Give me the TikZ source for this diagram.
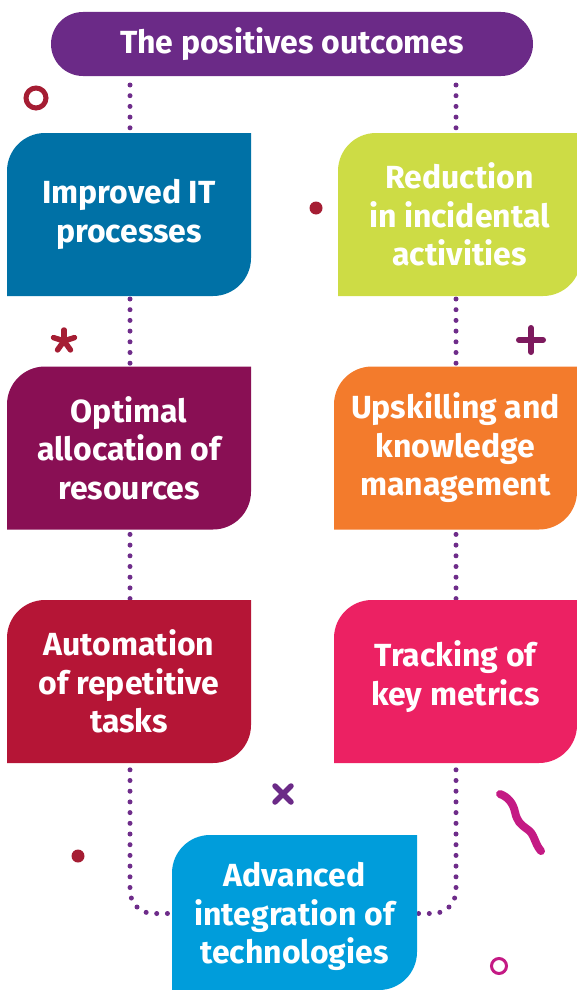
\documentclass[tikz,border=0pt]{standalone}
\usepackage{fontspec}
\setmainfont{Fira Sans}
\usetikzlibrary{calc,shapes.misc}
\definecolor{cTitle}{HTML}{6B2A87}
\definecolor{cBlue}{HTML}{0071A6}
\definecolor{cLime}{HTML}{CDDC45}
\definecolor{cMaroon}{HTML}{890F54}
\definecolor{cOrange}{HTML}{F37B2C}
\definecolor{cCrimson}{HTML}{B51536}
\definecolor{cPink}{HTML}{EC2163}
\definecolor{cCyan}{HTML}{009DDB}
\definecolor{cDots}{HTML}{6E2C8A}
\definecolor{cRed}{HTML}{A51D33}
\definecolor{cPlum}{HTML}{7D1A5E}
\definecolor{cMagenta}{HTML}{C41A84}
\pgfdeclarelayer{bg}
\pgfdeclarelayer{shapes}
\pgfsetlayers{bg,shapes,main}
\newcommand\cornerbox[3][0]{%
  \fill[#3] ($(#2.south west)+(0,#1)$) -- ($(#2.north west)+(0,-38)$)
    arc[start angle=180,end angle=90,radius=38pt] -- (#2.north east)
    -- ($(#2.south east)+(0,38+#1)$)
    arc[start angle=0,end angle=-90,radius=38pt] -- cycle;}
\tikzset{
  boxtext/.style={inner sep=0pt, outer sep=0pt, align=center, text=white,
    font=\bfseries\fontsize{32}{38.5}\selectfont},
  lbox/.style={boxtext, minimum width=244pt, minimum height=163pt},
  rbox/.style={boxtext, minimum width=243pt, minimum height=163pt},
  titlebox/.style={rounded rectangle, fill=cTitle, inner sep=0pt, outer sep=0pt,
    minimum width=482pt, minimum height=64pt, text=white,
    font=\bfseries\fontsize{32}{36}\selectfont},
  dotline/.style={draw=cDots, line width=5pt, line cap=round,
    dash pattern=on 0pt off 10.7pt, rounded corners=23pt},
  deco/.style={line width=5.5pt, line cap=round}
}
\begin{document}
\begin{tikzpicture}[x=1pt,y=1pt]
\useasboundingbox (0,0) rectangle (577,-990);
\node[titlebox] (title) at (292,-44) {The positives outcomes};
\node[lbox] (b1) at (129,-214.5) {Improved IT\\processes};
\node[rbox] (b2) at (459.5,-214.5) {Reduction\\in incidental\\activities};
\node[lbox] (b3) at (129,-448) {Optimal\\allocation of\\resources};
\node[rbox] (b4) at (455.5,-448) {Upskilling and\\knowledge\\management};
\node[lbox] (b5) at (129,-681.5) {Automation\\of repetitive\\tasks};
\node[rbox, minimum height=153pt] (b6) at (455.5,-676.5) {Tracking of\\key metrics};
\node[boxtext, minimum width=245pt, minimum height=163pt] (b7) at (294.5,-916.5)
  {Advanced\\integration of\\technologies};
\coordinate (lx) at (130,0);
\coordinate (rx) at (456,0);
\begin{pgfonlayer}{shapes}
\cornerbox{b1}{cBlue}
\cornerbox{b2}{cLime}
\cornerbox{b3}{cMaroon}
\cornerbox{b4}{cOrange}
\cornerbox{b5}{cCrimson}
\cornerbox[-10]{b6}{cPink}
\cornerbox[8]{b7}{cCyan}
\end{pgfonlayer}
\begin{pgfonlayer}{bg}
\draw[dotline] ($(title.south -| lx)+(0,-9)$) |- ($(b7.west)+(0,3)$);
\draw[dotline] ($(title.south -| rx)+(0,-9)$) |- ($(b7.east)+(0,3)$);
\end{pgfonlayer}
% decorations
\draw[cRed, line width=5pt] (36,-98) circle[radius=10pt];
\fill[cRed] (316,-208) circle[radius=6.5pt];
\foreach \a in {90,18,162,234,306}
  \draw[cRed, deco] (64,-341) -- ++(\a:11);
\draw[cPlum, line width=6pt, line cap=round] (519,-340) -- (543,-340) (531,-328) -- (531,-352);
\draw[cTitle, deco] (275,-786) -- (291,-802) (275,-802) -- (291,-786);
\draw[cMagenta, line width=8pt, line cap=round]
  (500,-794) .. controls (508,-797) and (513,-803) .. (515,-812)
  .. controls (517,-821) and (520,-824) .. (527,-829)
  .. controls (535,-834) and (534,-843) .. (541,-851);
\fill[cRed] (78,-856) circle[radius=6.5pt];
\draw[cMagenta, line width=3pt] (499,-966) circle[radius=7.5pt];
\end{tikzpicture}
\end{document}
